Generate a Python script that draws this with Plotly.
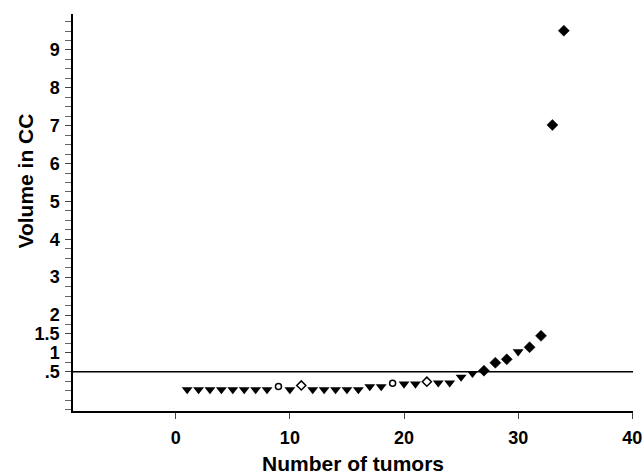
import plotly.graph_objects as go

# ---- data ----
tumor_number = list(range(1, 35))
volume_cc = [0.03, 0.03, 0.03, 0.03, 0.03, 0.03, 0.03, 0.03, 0.11, 0.03,
             0.14, 0.03, 0.03, 0.03, 0.03, 0.03, 0.11, 0.11, 0.20, 0.18,
             0.18, 0.24, 0.21, 0.21, 0.36, 0.46, 0.53, 0.74, 0.83, 1.03,
             1.15, 1.45, 7.02, 9.51]
marker_kind = ["tri", "tri", "tri", "tri", "tri", "tri", "tri", "tri", "ocircle", "tri",
               "odiamond", "tri", "tri", "tri", "tri", "tri", "tri", "tri", "ocircle", "tri",
               "tri", "odiamond", "tri", "tri", "tri", "tri", "diamond", "diamond", "diamond", "tri",
               "diamond", "diamond", "diamond", "diamond"]
reference_volume = 0.5

y_tickvals = [0.5, 1, 1.5, 2, 3, 4, 5, 6, 7, 8, 9]
y_ticktext = [".5", "1", "1.5", "2", "3", "4", "5", "6", "7", "8", "9"]
x_tickvals = [0, 10, 20, 30, 40]

styles = {
    "tri": dict(symbol="triangle-down", size=9.5, color="black", line=dict(width=0)),
    "diamond": dict(symbol="diamond", size=8.5, color="black", line=dict(width=0.5, color="black")),
    "ocircle": dict(symbol="circle-open", size=6, color="black", line=dict(width=1.5)),
    "odiamond": dict(symbol="diamond-open", size=7, color="black", line=dict(width=1.5)),
}

fig = go.Figure()
for kind, st in styles.items():
    xs = [x for x, k in zip(tumor_number, marker_kind) if k == kind]
    ys = [y for y, k in zip(volume_cc, marker_kind) if k == kind]
    fig.add_trace(go.Scatter(x=xs, y=ys, mode="markers", marker=st,
                             showlegend=False, hoverinfo="x+y", cliponaxis=False))

fig.add_shape(type="line", xref="paper", yref="y", x0=0, x1=1,
              y0=reference_volume, y1=reference_volume,
              line=dict(color="black", width=1.5))

font = "Liberation Sans, Arial, Helvetica, sans-serif"
fig.update_layout(
    width=644, height=475,
    margin=dict(l=73, r=11, t=14, b=64),
    paper_bgcolor="white", plot_bgcolor="white",
    font=dict(family=font, color="black"),
)
fig.add_annotation(text="<b>Volume in CC</b>", xref="paper", yref="paper",
                   x=-0.085, y=0.579, xanchor="center", yanchor="middle",
                   textangle=-90, showarrow=False, font=dict(size=21, family=font))
fig.update_xaxes(
    range=[-9, 40.06], tickmode="array", tickvals=x_tickvals,
    ticks="outside", ticklen=6, tickwidth=1, tickcolor="#444",
    showline=True, linecolor="black", linewidth=1.5,
    showgrid=False, zeroline=False, automargin=False,
    tickfont=dict(size=18, family=font, weight="bold"),
    ticklabelstandoff=4, ticklabeloverflow="allow",
    title=dict(text="<b>Number of tumors</b>", font=dict(size=21, family=font), standoff=12),
)
fig.update_yaxes(
    range=[-0.535, 9.95], tickmode="array", tickvals=y_tickvals, ticktext=y_ticktext,
    ticks="outside", ticklen=6, tickwidth=1, tickcolor="#444",
    minor=dict(dtick=0.25, tick0=0, ticks="outside", ticklen=6, tickwidth=1, tickcolor="#666", showgrid=False),
    showline=True, linecolor="black", linewidth=1.5,
    showgrid=False, zeroline=False, automargin=False,
    tickfont=dict(size=18, family=font, weight="bold"),
    ticklabelstandoff=2,
)

fig.write_html("out.html")
